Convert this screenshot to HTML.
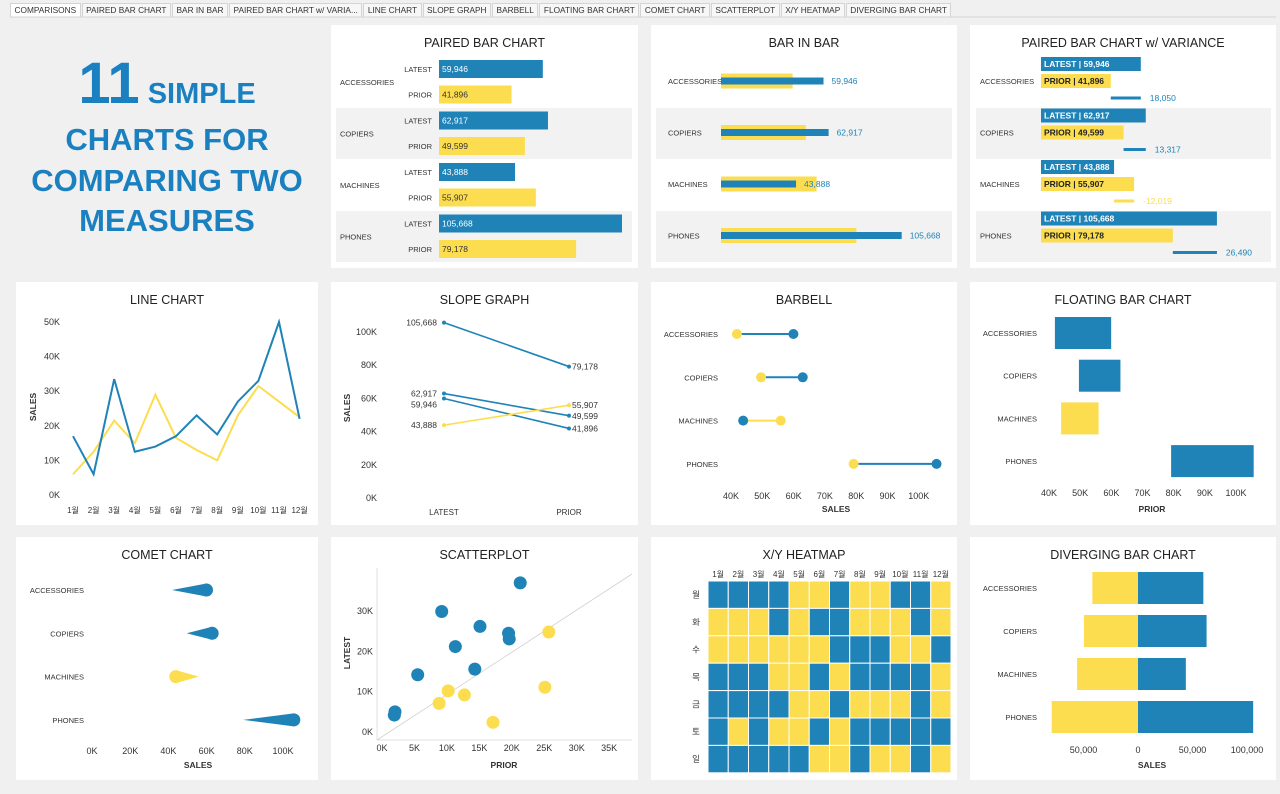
<!DOCTYPE html>
<html><head><meta charset="utf-8"><style>
html,body{margin:0;padding:0;background:#f0f0f0;width:1280px;height:794px;overflow:hidden;font-family:"Liberation Sans","Noto Sans CJK KR",sans-serif}
#tabs{position:absolute;left:10px;top:3px;height:14px;display:flex;font-size:8.3px;color:#333}
.tab{height:13px;line-height:13px;border:1px solid #d4d4d4;border-bottom:none;background:#f7f7f7;padding:0 3.5px;margin-right:1px;white-space:nowrap}
.tab.sel{background:#fff}
svg{position:absolute;left:0;top:0}
text{font-family:"Liberation Sans","Noto Sans CJK KR",sans-serif;fill:#333}
</style></head><body>
<div id="tabs">
<div class="tab sel">COMPARISONS</div>
<div class="tab">PAIRED BAR CHART</div>
<div class="tab">BAR IN BAR</div>
<div class="tab">PAIRED BAR CHART w/ VARIA...</div>
<div class="tab">LINE CHART</div>
<div class="tab">SLOPE GRAPH</div>
<div class="tab">BARBELL</div>
<div class="tab">FLOATING BAR CHART</div>
<div class="tab">COMET CHART</div>
<div class="tab">SCATTERPLOT</div>
<div class="tab">X/Y HEATMAP</div>
<div class="tab">DIVERGING BAR CHART</div>
</div>
<svg id="s" width="1280" height="794" viewBox="0 0 1280 794" style="top:0">
<line x1="10" y1="17" x2="1276" y2="17" stroke="#d4d4d4"/>
<g font-weight="bold" text-anchor="middle">
<text x="167" y="103" style="fill:#1a80c0"><tspan font-size="58">11</tspan><tspan font-size="29"> SIMPLE</tspan></text>
<text x="167" y="150" font-size="31" style="fill:#1a80c0">CHARTS FOR</text>
<text x="167" y="191" font-size="31" style="fill:#1a80c0">COMPARING TWO</text>
<text x="167" y="231" font-size="31" style="fill:#1a80c0">MEASURES</text>
</g>
</svg>
<script>
const cats=['ACCESSORIES','COPIERS','MACHINES','PHONES'];
const latest=[59946,62917,43888,105668];
const prior=[41896,49599,55907,79178];
const variance=[18050,13317,-12019,26490];
const months=['1월','2월','3월','4월','5월','6월','7월','8월','9월','10월','11월','12월'];
const lineLatest=[17,6,33.5,12.5,14,17,23,17.5,27,33,50,22];
const linePrior=[6,12.5,21.5,15,29,16.5,13,10,23,31.5,27,22.5];
const lineTicks=[0,10,20,30,40,50];
const scatterPrior=[21.3,9.2,15.1,19.5,19.6,11.3,5.5,14.3,10.2,1.9,2.0,25.7,25.1,12.7,8.8,17.1];
const scatterLatest=[37,29.9,26.2,24.5,23.1,21.2,14.2,15.6,10.2,4.2,5.0,24.8,11.1,9.2,7.1,2.4];
const days=['월','화','수','목','금','토','일'];
const heat=['BBBBYYBYYBBY','YYYBYBBYYYBY','YYYYYYBBBYYB','BBBYYBYBBBBY','BBBBYYBYYYBY','BYBYYBYBBBBB','BBBBBYYBYYBY'];
const B='#1f83b8',Y='#fcdd4f';
const S=document.getElementById('s');
const NS='http://www.w3.org/2000/svg';
function el(t,a,p){const e=document.createElementNS(NS,t);for(const k in a)e.setAttribute(k,a[k]);(p||S).appendChild(e);return e;}
function tx(x,y,s,sz,anc,p,fill){const e=el('text',{x:x,y:y,'font-size':sz||9,'text-anchor':anc||'start'},p);e.textContent=s;if(fill)e.style.fill=fill;return e;}
function fmt(v){return v.toLocaleString('en-US');}
const cols=[16,331,651,970],cw=[302,307,306,306],rows=[25,282,537];
const titles=[[null,'PAIRED BAR CHART','BAR IN BAR','PAIRED BAR CHART w/ VARIANCE'],['LINE CHART','SLOPE GRAPH','BARBELL','FLOATING BAR CHART'],['COMET CHART','SCATTERPLOT','X/Y HEATMAP','DIVERGING BAR CHART']];
for(let r=0;r<3;r++)for(let c=0;c<4;c++){if(!titles[r][c])continue;
const g=el('g',{});


el('rect',{x:cols[c],y:rows[r],width:cw[c],height:243,fill:'#fff'},g);
const t=tx(cols[c]+cw[c]/2,rows[r]+22,titles[r][c],12.5,'middle',g,'#222');

}
function band(x,w){[1,3].forEach(i=>{const b=el('rect',{x:x,y:108+(i-1)*51.5,width:w,height:51,fill:'#f2f2f2'});

});}
// Paired bar
band(336,296);
cats.forEach((c,i)=>{const yL=69+i*51.5,yP=yL+25.5,k=1.732e-3;
tx(340,(yL+yP)/2+3,c,7.5);tx(432,yL+3,'LATEST',7.5,'end');tx(432,yP+3,'PRIOR',7.5,'end');
const a=el('rect',{x:439,y:yL-9,width:latest[i]*k,height:18,fill:B});


const b=el('rect',{x:439,y:yP-9,width:prior[i]*k,height:18,fill:Y});


tx(442,yL+3,fmt(latest[i]),8.5,'start',S,'#fff');tx(442,yP+3,fmt(prior[i]),8.5);});
// Bar in bar
band(656,296);
cats.forEach((c,i)=>{const yc=81+i*51.5,k=1.71e-3;tx(668,yc+3,c,7.5);
const a=el('rect',{x:721,y:yc-7.5,width:prior[i]*k,height:15,fill:Y});


const b=el('rect',{x:721,y:yc-3.5,width:latest[i]*k,height:7,fill:B});


tx(721+latest[i]*k+8,yc+3,fmt(latest[i]),8.5,'start',S,B);});
// Paired variance
band(976,295);
cats.forEach((c,i)=>{const yc=64+i*51.5,k=1.665e-3,x0=1041;tx(980,yc+20,c,7.5);
const a=el('rect',{x:x0,y:yc-7,width:latest[i]*k,height:14,fill:B});


const b=el('rect',{x:x0,y:yc+10,width:prior[i]*k,height:14,fill:Y});


tx(x0+3,yc+3,'LATEST | '+fmt(latest[i]),8.5,'start',S,'#fff').setAttribute('font-weight','bold');
tx(x0+3,yc+20,'PRIOR | '+fmt(prior[i]),8.5,'start',S,'#222').setAttribute('font-weight','bold');
const d=variance[i],x1=x0+Math.min(latest[i],prior[i])*k,x2=x0+Math.max(latest[i],prior[i])*k,col=d>=0?B:Y;
const v=el('rect',{x:x1,y:yc+32.5,width:x2-x1,height:3,fill:col});


tx(x2+9,yc+37,fmt(d),8.5,'start',S,col);});
// Line chart
(function(){const lx=i=>73+i*20.6,ly=v=>495-v*3.46;
lineTicks.forEach(t=>tx(60,ly(t)+3,t+'K',9,'end'));
months.forEach((m,i)=>tx(lx(i),513,m,8,'middle'));
const st=tx(36,407,'SALES',8.5,'middle');st.setAttribute('transform','rotate(-90 36 407)');st.setAttribute('font-weight','bold');
[[linePrior,Y,'line-prior'],[lineLatest,B,'line-latest']].forEach(([d,c,n])=>{const p=el('polyline',{points:d.map((v,i)=>lx(i)+','+ly(v)).join(' '),fill:'none',stroke:c,'stroke-width':2});

});})();
// Slope
(function(){const ys=v=>498-v/1000*1.66;
[0,20,40,60,80,100].forEach(t=>tx(377,ys(t*1000)+3,t+'K',9,'end'));
const st=tx(350,408,'SALES',8.5,'middle');st.setAttribute('transform','rotate(-90 350 408)');st.setAttribute('font-weight','bold');
tx(444,515,'LATEST',8,'middle');tx(569,515,'PRIOR',8,'middle');
function spread(vals){const o=vals.map((v,i)=>({i:i,y:ys(v)})).sort((a,b)=>a.y-b.y);for(let j=1;j<o.length;j++)if(o[j].y-o[j-1].y<11)o[j].y=o[j-1].y+11;const r=[];o.forEach(q=>r[q.i]=q.y);return r;}
const ll=spread(latest),pl=spread(prior);
cats.forEach((c,i)=>{const col=latest[i]>prior[i]?B:Y;
const l=el('line',{x1:444,y1:ys(latest[i]),x2:569,y2:ys(prior[i]),stroke:col,'stroke-width':1.6});


el('circle',{cx:444,cy:ys(latest[i]),r:2,fill:col});el('circle',{cx:569,cy:ys(prior[i]),r:2,fill:col});
tx(437,ll[i]+3,fmt(latest[i]),8.5,'end');tx(572,pl[i]+3,fmt(prior[i]),8.5);});})();
// Barbell
(function(){const bx=v=>731+(v/1000-40)*3.13;
[40,50,60,70,80,90,100].forEach(t=>tx(bx(t*1000),499,t+'K',9,'middle'));
tx(836,512,'SALES',8.5,'middle').setAttribute('font-weight','bold');
cats.forEach((c,i)=>{const y=334+i*43.3,col=latest[i]>prior[i]?B:Y;tx(718,y+3,c,7.5,'end');
const l=el('line',{x1:bx(prior[i]),y1:y,x2:bx(latest[i]),y2:y,stroke:col,'stroke-width':2});


el('circle',{cx:bx(prior[i]),cy:y,r:5,fill:Y});el('circle',{cx:bx(latest[i]),cy:y,r:5,fill:B});});})();
// Floating bar
(function(){const fx=v=>1049+(v/1000-40)*3.117;
[40,50,60,70,80,90,100].forEach(t=>tx(fx(t*1000),496,t+'K',9,'middle'));
tx(1152,512,'PRIOR',8.5,'middle').setAttribute('font-weight','bold');
cats.forEach((c,i)=>{const y=333+i*42.7,col=latest[i]>prior[i]?B:Y;tx(1037,y+3,c,7.5,'end');
const a=Math.min(latest[i],prior[i]),b=Math.max(latest[i],prior[i]);
const r=el('rect',{x:fx(a),y:y-16,width:fx(b)-fx(a),height:32,fill:col});

});})();
// Comet
(function(){const cx=v=>92+v/1000*1.91;
[0,20,40,60,80,100].forEach(t=>tx(cx(t*1000),754,t+'K',9,'middle'));
tx(198,768,'SALES',8.5,'middle').setAttribute('font-weight','bold');
cats.forEach((c,i)=>{const y=590+i*43.3,col=latest[i]>prior[i]?B:Y,xt=cx(prior[i]),xh=cx(latest[i]),r=6.5;tx(84,y+3,c,7.5,'end');
const g=el('g',{fill:col});


el('polygon',{points:xt+','+y+' '+xh+','+(y-r)+' '+xh+','+(y+r)},g);el('circle',{cx:xh,cy:y,r:r},g);});})();
// Scatter
(function(){const sx=v=>382+v*6.49,sy=v=>732-v*4.03;
el('line',{x1:377,y1:568,x2:377,y2:740,stroke:'#e2e2e2'});el('line',{x1:377,y1:740,x2:632,y2:740,stroke:'#e2e2e2'});
el('line',{x1:377,y1:740,x2:632,y2:574,stroke:'#d0d0d0','stroke-width':0.8});
[0,5,10,15,20,25,30,35].forEach(t=>tx(sx(t),751,t+'K',9,'middle'));
[0,10,20,30].forEach(t=>tx(373,sy(t)+3,t+'K',9,'end'));
tx(504,768,'PRIOR',8.5,'middle').setAttribute('font-weight','bold');
const lt=tx(350,653,'LATEST',8.5,'middle');lt.setAttribute('transform','rotate(-90 350 653)');lt.setAttribute('font-weight','bold');
scatterPrior.forEach((p,i)=>{const d=el('circle',{cx:sx(p),cy:sy(scatterLatest[i]),r:6.5,fill:scatterLatest[i]>p?B:Y});

});})();
// Heatmap
(function(){const x0=708,w=20.25,y0=581,h=27.4;
months.forEach((m,j)=>tx(x0+j*w+w/2,577,m,8,'middle'));
days.forEach((d,i)=>{tx(700,y0+i*h+h/2+3,d,8.5,'end');
for(let j=0;j<12;j++){const r=el('rect',{x:x0+j*w,y:y0+i*h,width:w,height:h,fill:heat[i][j]==='B'?B:Y,stroke:'#fff','stroke-width':1});

}});})();
// Diverging
(function(){const dx=v=>1138+v/1000*1.09;
[[-50000,'50,000'],[0,'0'],[50000,'50,000'],[100000,'100,000']].forEach(([v,s])=>tx(dx(v),753,s,9,'middle'));
tx(1152,768,'SALES',8.5,'middle').setAttribute('font-weight','bold');
cats.forEach((c,i)=>{const y=588+i*43;tx(1037,y+3,c,7.5,'end');
const a=el('rect',{x:dx(-prior[i]),y:y-16,width:dx(0)-dx(-prior[i]),height:32,fill:Y});


const b=el('rect',{x:dx(0),y:y-16,width:dx(latest[i])-dx(0),height:32,fill:B});

});})();
</script>
</body></html>
